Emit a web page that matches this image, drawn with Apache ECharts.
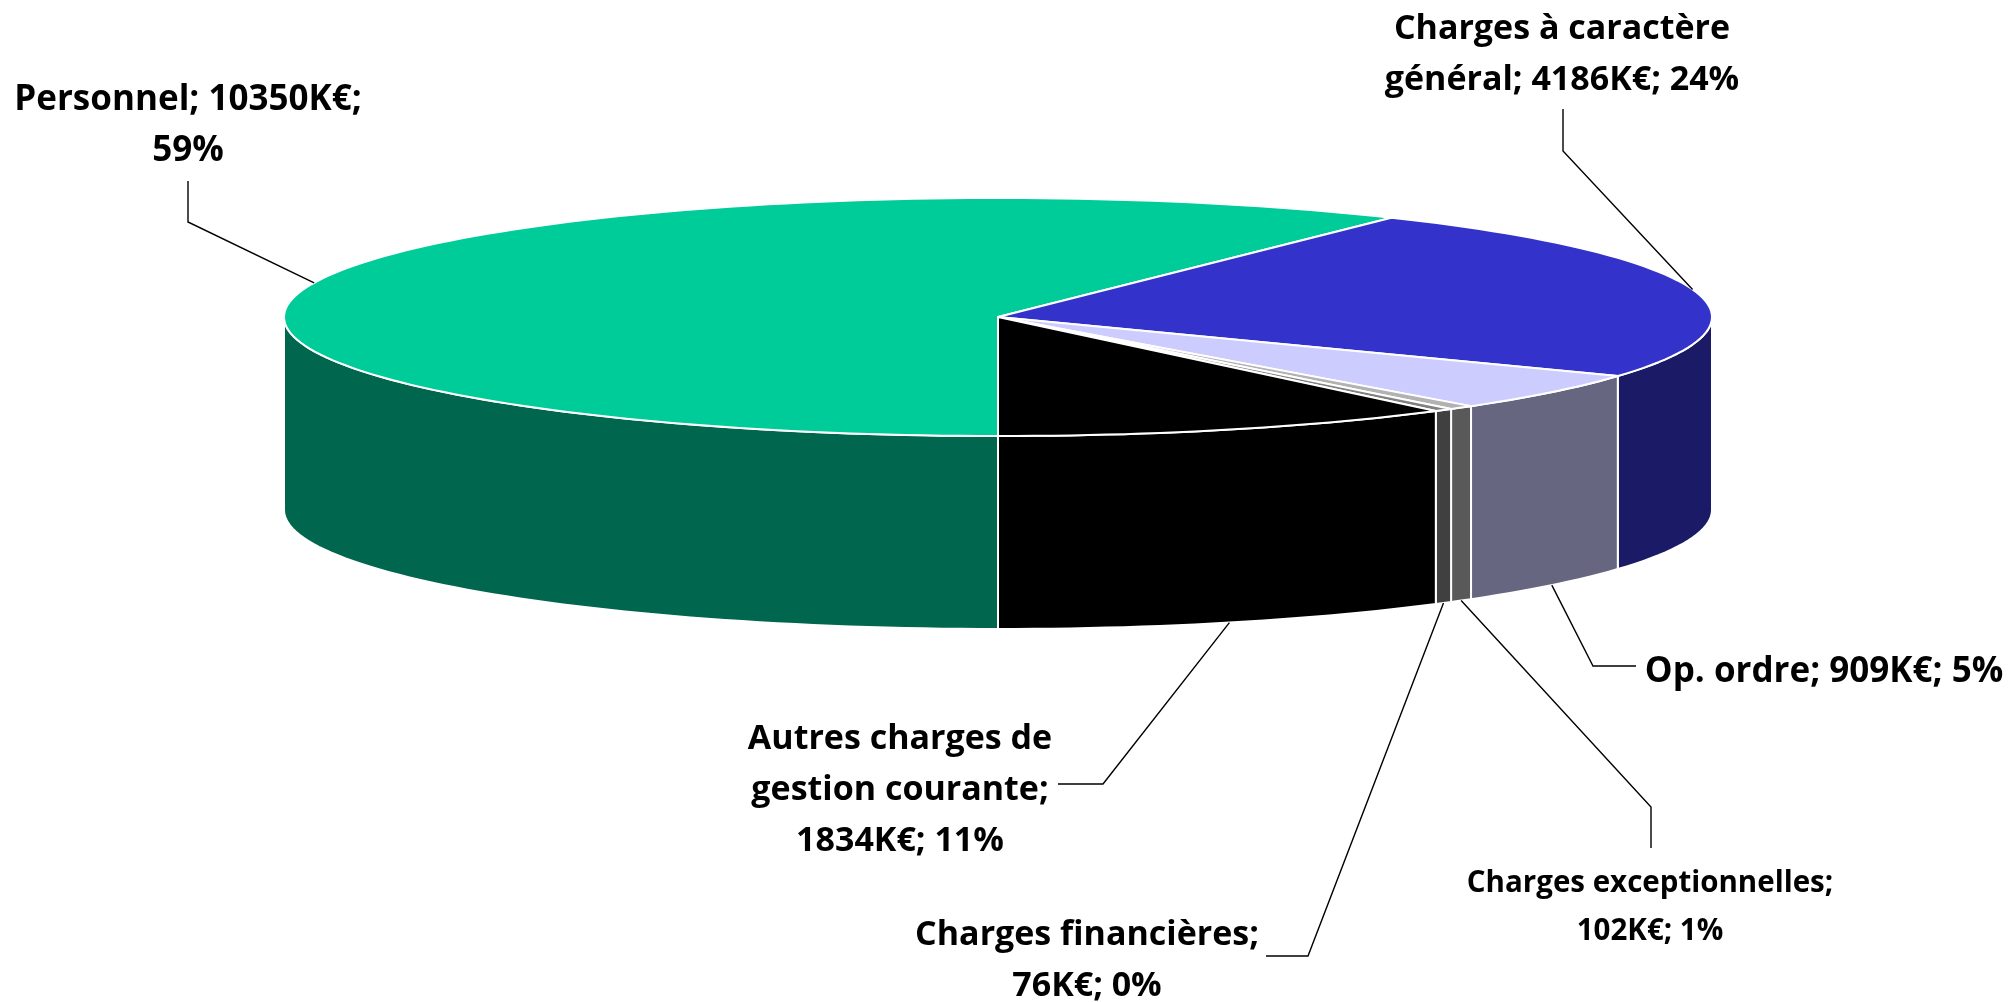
<!DOCTYPE html>
<html>
<head>
<meta charset="utf-8">
<title>Charges</title>
<script src="https://cdn.jsdelivr.net/npm/echarts@6/dist/echarts.min.js"></script>
<style>
html, body { margin: 0; padding: 0; background: #fff; }
#main { width: 2015px; height: 1002px; }
</style>
</head>
<body>
<div id="main"></div>
<script>
// valeurs (K€)
var categories = ['Personnel', 'Charges à caractère général', 'Op. ordre', 'Charges exceptionnelles', 'Charges financières', 'Autres charges de gestion courante'];
var values = [10350, 4186, 909, 102, 76, 1834];
var topColors = ['#00CC99', '#3333CC', '#CCCCFF', '#B2B2B2', '#808080', '#000000'];
var sideColors = ['#00664D', '#1A1A66', '#666680', '#595959', '#404040', '#000000'];

// coupures de lignes des etiquettes, comme sur l'original
var labelTexts = [
	'Personnel; {v}K€;\n{p}%',
	'Charges à caractère\ngénéral; {v}K€; {p}%',
	'Op. ordre; {v}K€; {p}%',
	'Charges exceptionnelles;\n{v}K€; {p}%',
	'Charges financières;\n{v}K€; {p}%',
	'Autres charges de\ngestion courante;\n{v}K€; {p}%'
];
var labelCenters = [[188, 126], [1562, 55], [1824, 672], [1650, 908], [1087, 961], [900, 790]];
var labelSizes = [35, 34, 35, 29.5, 34, 34];
// points des traits de rappel, le dernier point est calcule depuis la part
var leaderPoints = [
	[[188, 181], [188, 222]],
	[[1563, 109], [1563, 151]],
	[[1636, 666], [1593, 666]],
	[[1651, 848], [1651, 807]],
	[[1266, 956], [1308, 956]],
	[[1058, 784], [1103, 784]]
];

var cx = 998;
var cy = 317;
var rx = 714;
var ry = 119;
var depth = 193;
var startAngle = 180; // degres, sens horaire depuis le haut

var total = values.reduce(function (a, b) { return a + b; }, 0);

function ellipsePoint(deg, dy) {
	var r = deg * Math.PI / 180;
	return [cx + rx * Math.sin(r), cy - ry * Math.cos(r) + dy];
}

function sliceAngles(i) {
	var before = 0;
	for (var k = 0; k < i; k++) before += values[k];
	var a0 = startAngle + before / total * 360;
	var a1 = startAngle + (before + values[i]) / total * 360;
	// on ramene le debut de la tranche sur 0-360
	if (a0 >= 360) {
		a0 -= 360;
		a1 -= 360;
	}
	return [a0, a1];
}

function arc(a0, a1, dy) {
	var pts = [];
	var n = Math.max(2, Math.ceil((a1 - a0) / 1.5));
	for (var k = 0; k <= n; k++) pts.push(ellipsePoint(a0 + (a1 - a0) * k / n, dy));
	return pts;
}

// partie visible de la tranche sur la face avant (90 a 270 degres)
function frontRange(a0, a1) {
	var lo = Math.max(a0, 90);
	var hi = Math.min(a1, 270);
	if (lo >= hi) return null;
	return [lo, hi];
}

var whiteLine = { stroke: '#fff', lineWidth: 2, lineJoin: 'round' };

function renderSlice(params, api) {
	var i = params.dataIndex;
	var angles = sliceAngles(i);
	var children = [];
	var front = frontRange(angles[0], angles[1]);
	if (front) {
		var side = arc(front[0], front[1], 0).concat(arc(front[0], front[1], depth).reverse());
		children.push({
			type: 'polygon',
			z2: 1,
			shape: { points: side },
			style: Object.assign({ fill: sideColors[i] }, whiteLine)
		});
	}
	var top = [[cx, cy]].concat(arc(angles[0], angles[1], 0));
	children.push({
		type: 'polygon',
		z2: 2 + i,
		shape: { points: top },
		style: Object.assign({ fill: topColors[i] }, whiteLine)
	});

	// le trait part du milieu de la tranche
	var mid = (angles[0] + angles[1]) / 2;
	var anchor = ellipsePoint(mid, frontRange(mid, mid + 0.01) ? depth : 0);
	children.push({
		type: 'polyline',
		z2: 20,
		shape: { points: leaderPoints[i].concat([anchor]) },
		style: { stroke: '#000', lineWidth: 1.4, fill: null }
	});

	var txt = labelTexts[i].replace('{v}', values[i]).replace('{p}', Math.round(values[i] / total * 100));
	children.push({
		type: 'text',
		z2: 30,
		style: {
			text: txt,
			x: labelCenters[i][0],
			y: labelCenters[i][1],
			align: 'center',
			verticalAlign: 'middle',
			fill: '#000',
			font: 'bold ' + labelSizes[i] + 'px "Open Sans", sans-serif',
			lineHeight: i == 3 ? 48 : 51
		}
	});
	return { type: 'group', children: children };
}

var chartDom = document.getElementById('main');
var myChart = echarts.init(chartDom);
var option = {
	animation: false,
	backgroundColor: '#fff',
	series: [
		{
			type: 'custom',
			coordinateSystem: 'none',
			renderItem: renderSlice,
			data: values.map(function (v, i) { return { name: categories[i], value: v }; })
		}
	]
};
myChart.setOption(option);
</script>
</body>
</html>
